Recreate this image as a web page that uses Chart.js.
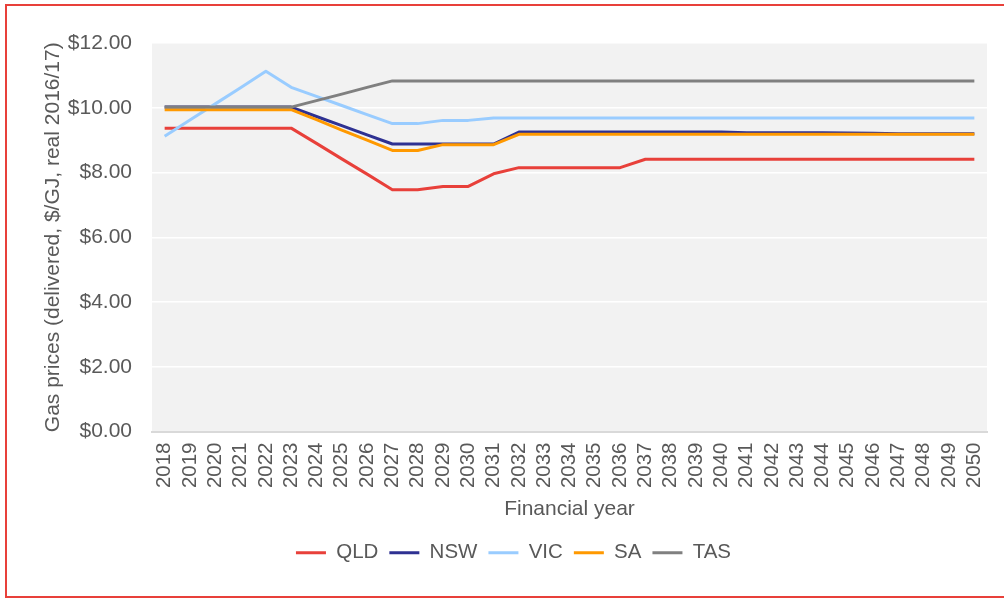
<!DOCTYPE html>
<html lang="en">
<head>
    <meta charset="UTF-8">
    <title>Gas prices by state</title>
    <style>
        body {
            margin: 0;
            width: 1004px;
            height: 599px;
            overflow: hidden;
            background: #fff;
            font-family: "Liberation Sans", Arial, sans-serif;
        }
        .frame {
            position: absolute;
            left: 5px;
            top: 4px;
            width: 1010px;
            height: 594px;
            box-sizing: border-box;
            border: 2.5px solid #e8403a;
            pointer-events: none;
        }
        .chart-box {
            position: absolute;
            left: 0;
            top: 0;
            width: 1004px;
            height: 599px;
        }
    </style>
</head>
<body>
    <div class="chart-box">
        <canvas id="gasChart" width="1004" height="599"></canvas>
    </div>
    <div class="frame"></div>

    <script src="https://cdn.jsdelivr.net/npm/chart.js"></script>
    <script>
        const years = ["2018","2019","2020","2021","2022","2023","2024","2025","2026","2027","2028",
            "2029","2030","2031","2032","2033","2034","2035","2036","2037","2038","2039","2040",
            "2041","2042","2043","2044","2045","2046","2047","2048","2049","2050"];

        const qld = [9.37,9.37,9.37,9.37,9.37,9.37,8.90,8.42,7.95,7.47,7.47,7.57,7.57,7.96,8.15,8.15,
            8.15,8.15,8.15,8.41,8.41,8.41,8.41,8.41,8.41,8.41,8.41,8.41,8.41,8.41,8.41,8.41,8.41];
        const nsw = [10.02,10.02,10.02,10.02,10.02,10.02,9.73,9.45,9.16,8.88,8.88,8.88,8.88,8.88,9.25,9.25,
            9.25,9.25,9.25,9.25,9.25,9.25,9.25,9.23,9.23,9.23,9.23,9.22,9.21,9.2,9.2,9.2,9.2];
        const vic = [9.12,9.62,10.12,10.62,11.13,10.63,10.35,10.07,9.79,9.51,9.51,9.61,9.61,9.68,9.68,9.68,
            9.68,9.68,9.68,9.68,9.68,9.68,9.68,9.68,9.68,9.68,9.68,9.68,9.68,9.68,9.68,9.68,9.68];
        const sa = [9.94,9.94,9.94,9.94,9.94,9.94,9.63,9.31,9.00,8.68,8.68,8.86,8.86,8.86,9.18,9.18,
            9.18,9.18,9.18,9.18,9.18,9.18,9.18,9.18,9.18,9.18,9.18,9.18,9.18,9.18,9.18,9.18,9.18];
        const tas = [10.02,10.02,10.02,10.02,10.02,10.02,10.22,10.42,10.63,10.83,10.83,10.83,10.83,10.83,10.83,10.83,
            10.83,10.83,10.83,10.83,10.83,10.83,10.83,10.83,10.83,10.83,10.83,10.83,10.83,10.83,10.83,10.83,10.83];

        const seriesNames = ["QLD", "NSW", "VIC", "SA", "TAS"];
        const seriesColors = ["#e8403a", "#2e3192", "#99ccff", "#ff9900", "#808080"];
        const seriesData = [qld, nsw, vic, sa, tas];

        const textColor = "#595959";
        const fontFamily = "'Liberation Sans', Arial, sans-serif";

        // grey plot background, like the excel plot area
        const plotBackground = {
            id: "plotBackground",
            beforeDraw(chart) {
                const {ctx, chartArea} = chart;
                ctx.save();
                ctx.fillStyle = "#f2f2f2";
                ctx.fillRect(chartArea.left, chartArea.top, chartArea.right - chartArea.left, chartArea.bottom - chartArea.top);
                ctx.restore();
            }
        };

        const datasets = seriesNames.map((name, i) => ({
            label: name,
            data: seriesData[i],
            borderColor: seriesColors[i],
            backgroundColor: seriesColors[i],
            borderWidth: 3,
            pointRadius: 0,
            tension: 0,
            fill: false,
            borderJoinStyle: "round",
            order: seriesNames.length - i   // later series on top, as in excel
        }));

        new Chart(document.getElementById("gasChart"), {
            type: "line",
            data: { labels: years, datasets: datasets },
            plugins: [plotBackground],
            options: {
                responsive: false,
                animation: false,
                devicePixelRatio: 1,
                layout: { padding: { top: 43, right: 17, bottom: 26, left: 40 } },
                plugins: {
                    tooltip: { enabled: false },
                    legend: {
                        position: "bottom",
                        labels: {
                            usePointStyle: true,
                            pointStyle: "line",
                            pointStyleWidth: 30,
                            padding: 11,
                            color: textColor,
                            font: { size: 20.5, family: fontFamily },
                            sort: (a, b) => a.datasetIndex - b.datasetIndex
                        }
                    }
                },
                scales: {
                    x: {
                        offset: true,
                        grid: { display: false, drawTicks: false },
                        border: { display: true, color: "#d9d9d9", width: 2 },
                        ticks: {
                            color: textColor,
                            font: { size: 20.5, family: fontFamily },
                            minRotation: 90,
                            maxRotation: 90,
                            autoSkip: false,
                            padding: 11
                        },
                        title: {
                            display: true,
                            text: "Financial year",
                            color: textColor,
                            font: { size: 21, family: fontFamily },
                            padding: { top: 0, bottom: 10 }
                        },
                        afterFit(scale) {
                            scale.height = 100;
                            // rotated labels fit inside the category slots, no extra side room
                            scale.paddingLeft = 0;
                            scale.paddingRight = 0;
                        }
                    },
                    y: {
                        min: 0,
                        max: 12,
                        grid: {
                            color: ctx => ctx.tick && ctx.tick.value === 0 ? "#d9d9d9" : "#ffffff",
                            lineWidth: 1.5,
                            drawTicks: false
                        },
                        border: { display: false },
                        ticks: {
                            stepSize: 2,
                            color: textColor,
                            font: { size: 21, family: fontFamily },
                            padding: 20,
                            callback: v => "$" + v.toFixed(2)
                        },
                        title: {
                            display: true,
                            text: "Gas prices (delivered, $/GJ, real 2016/17)",
                            color: textColor,
                            font: { size: 21, family: fontFamily },
                            padding: { top: 1, bottom: 0 }
                        },
                        afterFit(scale) { scale.width = 112; }
                    }
                }
            }
        });
    </script>
</body>
</html>
